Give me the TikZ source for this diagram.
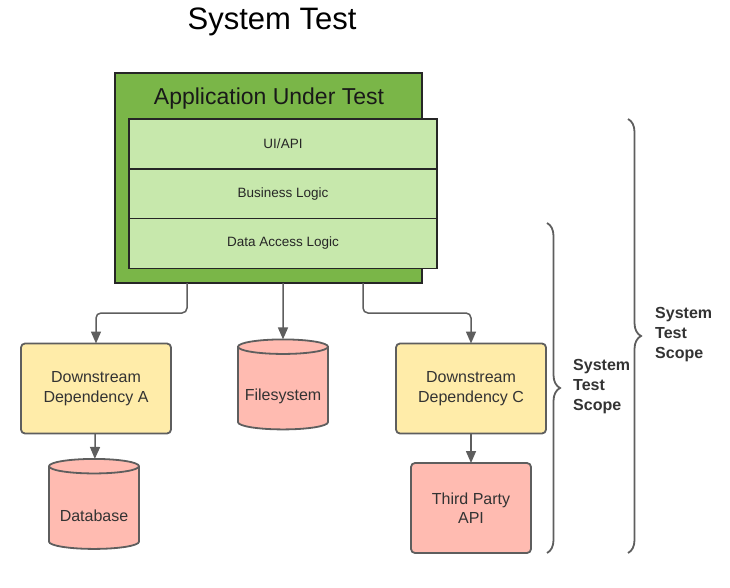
\documentclass[tikz,border=0pt]{standalone}
\usepackage{fontspec}
\setmainfont{Liberation Sans}
\usetikzlibrary{shapes.geometric,arrows.meta,decorations.pathreplacing}
\definecolor{appgreen}{HTML}{7AB648}
\definecolor{layergreen}{HTML}{C7E8AC}
\definecolor{depyellow}{HTML}{FFECA9}
\definecolor{extpink}{HTML}{FFBBB1}
\definecolor{linegray}{HTML}{5E5E5E}
\definecolor{txtgray}{HTML}{333333}
\begin{document}
\begin{tikzpicture}[x=1pt,y=-1pt,
  appbox/.style={draw=black!85,line width=1.6pt,fill=appgreen,inner sep=0pt,outer sep=0pt,minimum width=307pt,minimum height=210pt},
  layer/.style={draw=black!85,line width=1.2pt,fill=layergreen,inner sep=0pt,outer sep=0pt,minimum width=308pt,minimum height=50pt,font=\fontsize{13.5}{16}\selectfont,text=black!85},
  depbox/.style={draw=linegray,line width=1.8pt,fill=depyellow,rounded corners=4pt,inner sep=0pt,outer sep=0pt,minimum width=150pt,minimum height=90pt,align=center,font=\fontsize{16}{19.5}\selectfont,text=txtgray},
  extbox/.style={draw=linegray,line width=1.8pt,fill=extpink,rounded corners=4pt,inner sep=0pt,outer sep=0pt,minimum width=120pt,minimum height=90pt,align=center,font=\fontsize{16}{19.5}\selectfont,text=txtgray},
  store/.style={cylinder,shape border rotate=90,aspect=0.19,draw=linegray,line width=1.8pt,fill=extpink,inner sep=0pt,outer sep=0pt,minimum width=90pt,minimum height=90pt,font=\fontsize{16}{19.5}\selectfont},
  storetext/.style={font=\fontsize{16}{19.5}\selectfont,text=txtgray,inner sep=0pt},
  conn/.style={draw=linegray,line width=1.5pt,rounded corners=5pt,-{Triangle[length=12pt,width=10pt]}},
  scopebrace/.style={draw=linegray,line width=1.8pt,decorate,decoration={brace,amplitude=13pt}},
  scopetext/.style={align=left,anchor=west,font=\bfseries\fontsize{16}{20}\selectfont,text=txtgray,inner sep=0pt}
]
\useasboundingbox (0,0) rectangle (730,588);
\node[font=\fontsize{31}{36}\selectfont] (title) at (272,22) {System Test};
\node[appbox] (app) at (268.5,178) {};
\node[font=\fontsize{23}{27}\selectfont,text=black!90] (apptitle) at (269,99) {Application Under Test};
\node[layer] (ui) at (283,144) {UI/API};
\node[layer] (bl) at (283,194) {Business Logic};
\node[layer] (dal) at (283,243.5) {Data Access Logic};
\node[depbox] (depA) at (96,388.5) {Downstream\\Dependency A};
\node[store] (fs) at (283,388.5) {\phantom{Filesystem}};
\node[storetext] (fstext) at (283,396) {Filesystem};
\node[depbox] (depC) at (471,388.5) {Downstream\\Dependency C};
\node[store] (db) at (94,508) {\phantom{Filesystem}};
\node[storetext] (dbtext) at (94,516) {Database};
\node[extbox] (tp) at (471,508) {Third Party\\API};
\draw[conn] ([xshift=72pt]app.south west) -- ++(0,30) -| (depA);
\draw[conn] (app.south -| fs) -- (fs);
\draw[conn] ([xshift=248pt]app.south west) -- ++(0,30) -| (depC);
\draw[conn] (depA) -- (db);
\draw[conn] (depC) -- (tp);
\coordinate (ib1) at (547,223);
\coordinate (ib2) at (547,553);
\coordinate (ob1) at (628,119);
\coordinate (ob2) at (628,553);
\draw[scopebrace] (ib1) -- (ib2);
\draw[scopebrace] (ob1) -- (ob2);
\node[scopetext] (innerscope) at (573,387) {System\\Test\\Scope};
\node[scopetext] (outerscope) at (655,335) {System\\Test\\Scope};
\end{tikzpicture}
\end{document}
